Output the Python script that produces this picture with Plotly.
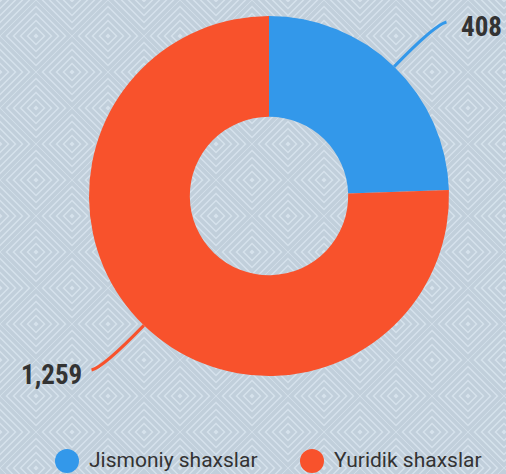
import math
import base64
import plotly.graph_objects as go

# ---- data ----
categories = ["Jismoniy shaxslar", "Yuridik shaxslar"]
values = [408, 1259]
colors = ["#3398ea", "#f8522c"]

W, H = 506, 474
CX, CY, R = 269, 196, 180  # pie centre / radius in px
HOLE = 0.44
TXT = "#333333"

def px(x, y):
    return x / W, 1 - y / H

# ---- decorative background pattern (tiled nested diamonds) ----
BASE, LINE, SW = "#d6e2ec", "#c1cfdb", 3.5
D = 36
RADII = (33, 26, 19, 12, 5)
pat = [f'<rect width="{W}" height="{H}" fill="{BASE}"/>']
for j in range(-2, H // D + 3):
    off = D if j % 2 else 0
    for i in range(-2, W // (2 * D) + 3):
        cx, cy = i * 2 * D + off, j * D
        for r in RADII:
            pts = f"{cx},{cy-r} {cx+r},{cy} {cx},{cy+r} {cx-r},{cy}"
            pat.append(f'<polygon points="{pts}" fill="none" stroke="{LINE}" stroke-width="{SW}"/>')
svg = (f'<svg xmlns="http://www.w3.org/2000/svg" width="{W}" height="{H}" viewBox="0 0 {W} {H}">'
       + "".join(pat) + "</svg>")
bg_uri = "data:image/svg+xml;base64," + base64.b64encode(svg.encode()).decode()

fig = go.Figure()
fig.add_trace(go.Pie(
    labels=categories, values=values, hole=HOLE, sort=False,
    direction="clockwise", rotation=0,
    marker=dict(colors=colors, line=dict(width=0)),
    textinfo="none", hoverinfo="label+value", showlegend=False,
    domain=dict(x=[(CX - R) / W, (CX + R) / W], y=[1 - (CY + R) / H, 1 - (CY - R) / H]),
))

shapes = []
annotations = []
total = sum(values)
cum = 0
for cat, v, col in zip(categories, values, colors):
    mid = (cum + v / 2) / total * 2 * math.pi
    cum += v
    dx, dy = math.sin(mid), -math.cos(mid)
    sx = 1 if dx >= 0 else -1
    sy = 1 if dy >= 0 else -1
    x0, y0 = CX + R * dx, CY + R * dy
    cxp, cyp = x0 + 58 * dx, y0 + 58 * dy
    x1, y1 = cxp + 12 * sx, cyp + 3 * sy
    p0, pc, p1 = px(x0, y0), px(cxp, cyp), px(x1, y1)
    shapes.append(dict(
        type="path", xref="paper", yref="paper",
        path=f"M {p0[0]} {p0[1]} Q {pc[0]} {pc[1]} {p1[0]} {p1[1]}",
        line=dict(color=col, width=3), layer="above",
    ))
    gap = 13 if sx > 0 else 8
    lx, ly = px(x1 + gap * sx, y1 + 5)
    annotations.append(dict(
        x=lx, y=ly, xref="paper", yref="paper", showarrow=False,
        text=f"{v:,}", xanchor="left" if sx > 0 else "right", yanchor="middle",
        font=dict(family="Roboto Condensed, Roboto, sans-serif", size=27, color=TXT, weight="bold"),
    ))

# custom legend with circle markers
leg_items = [(67, 87), (312, 332)]
for (mx, tx), cat, col in zip(leg_items, categories, colors):
    a0, b0 = px(mx - 12, 461 - 12)
    a1, b1 = px(mx + 12, 461 + 12)
    shapes.append(dict(type="circle", xref="paper", yref="paper",
                       x0=a0, y0=b1, x1=a1, y1=b0, fillcolor=col, line=dict(width=0)))
    tx_, ty_ = px(tx, 460)
    annotations.append(dict(
        x=tx_, y=ty_, xref="paper", yref="paper", showarrow=False, text=cat,
        xanchor="left", yanchor="middle",
        font=dict(family="Roboto, sans-serif", size=21, color=TXT),
    ))

fig.update_layout(
    width=W, height=H, margin=dict(l=0, r=0, t=0, b=0),
    paper_bgcolor=BASE, plot_bgcolor="rgba(0,0,0,0)",
    images=[dict(source=bg_uri, xref="paper", yref="paper", x=0, y=1, sizex=1, sizey=1,
                 xanchor="left", yanchor="top", sizing="stretch", layer="below")],
    shapes=shapes, annotations=annotations,
)
fig.write_html("out.html")
